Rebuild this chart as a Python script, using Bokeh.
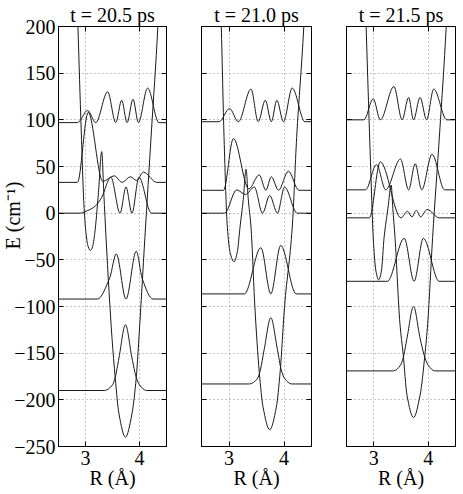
import numpy as np
from bokeh.plotting import figure
from bokeh.layouts import row
from bokeh.models import Range1d, FixedTicker, LinearAxis, Title
from bokeh.embed import file_html
from bokeh.resources import INLINE

FONT = "Liberation Serif"
TITLES = ["t = 20.5 ps", "t = 21.0 ps", "t = 21.5 ps"]
Y_TICKS = [-250, -200, -150, -100, -50, 0, 50, 100, 150, 200]
X_TICKS = [3, 4]
X_LIMITS = [2.5, 4.5]
Y_LIMITS = [-250, 200]
Y_LABEL = "E (cm\u207b\u00b9)"
X_LABEL = "R (\u00c5)"

# ---------------- panel 1 (t = 20.5 ps) ----------------
P1_POT_R = [2.80, 2.86, 2.92, 2.97, 3.01, 3.05, 3.09, 3.13, 3.17, 3.24, 3.30, 3.34, 3.38, 3.49, 3.55, 3.62, 3.74, 3.86, 3.94, 3.99, 4.10, 4.22, 4.34, 4.40]
P1_POT_V = [320, 200, 90, 10, -22, -36, -40, -36, -22, 22, 66, 20, -26, -133, -176, -215, -240, -215, -176, -133, -26, 87, 200, 280]
P1_A_R = [2.50, 2.85, 3.04, 3.19, 3.41, 3.56, 3.67, 3.77, 3.88, 3.98, 4.15, 4.36, 4.50]
P1_A_E = [97, 97, 110, 97, 130, 97, 121, 97, 122, 97, 134, 97, 97]
P1_B_R = [2.50, 2.85, 3.05, 3.32, 3.53, 3.68, 3.83, 3.95, 4.07, 4.32, 4.50]
P1_B_E = [33, 33, 108, 34, 40, 33, 39, 35, 44, 33, 33]
P1_C_R = [2.50, 2.90, 3.05, 3.19, 3.30, 3.47, 3.64, 3.75, 3.86, 3.99, 4.22, 4.50]
P1_C_E = [0, 0, 3, 8, 17, 38.5, 0, 28, 0, 38.5, 0, 0]
P1_D_R = [2.50, 3.22, 3.45, 3.57, 3.75, 3.94, 4.05, 4.25, 4.50]
P1_D_E = [-92, -92, -69, -43.6, -92, -40.8, -70, -92, -92]
P1_E_R = [2.50, 3.35, 3.50, 3.55, 3.62, 3.74, 3.86, 3.94, 4.00, 4.13, 4.50]
P1_E_E = [-190, -190, -184, -176, -155, -119.5, -155, -176, -184, -190, -190]

# ---------------- panel 2 (t = 21.0 ps) ----------------
P2_POT_R = [2.80, 2.86, 2.91, 2.97, 3.02, 3.09, 3.15, 3.20, 3.26, 3.31, 3.35, 3.40, 3.47, 3.55, 3.62, 3.74, 3.86, 3.93, 4.01, 4.15, 4.23, 4.36, 4.42]
P2_POT_V = [320, 200, 81, -15, -42, -52, -42, -15, 15, 47, 15, -15, -100, -170, -208, -232, -208, -170, -100, -15, 81, 200, 280]
P2_A_R = [2.50, 2.82, 3.01, 3.17, 3.40, 3.53, 3.66, 3.77, 3.87, 3.99, 4.15, 4.38, 4.50]
P2_A_E = [98, 98, 112, 98, 133, 98, 121, 98, 121, 98, 134, 98, 98]
P2_B_R = [2.50, 2.90, 3.08, 3.36, 3.55, 3.67, 3.77, 3.90, 4.08, 4.27, 4.50]
P2_B_E = [24.5, 24.5, 80, 26, 41, 24.5, 39, 24.5, 45, 24.5, 24.5]
P2_C_R = [2.50, 2.92, 3.14, 3.30, 3.46, 3.61, 3.74, 3.88, 4.01, 4.24, 4.50]
P2_C_E = [0, 0, 25, 20, 28, 0, 19, 0, 28, 0, 0]
P2_D_R = [2.50, 3.28, 3.58, 3.76, 3.94, 4.22, 4.50]
P2_D_E = [-86.5, -86.5, -37, -86.5, -34.6, -86.5, -86.5]
P2_E_R = [2.50, 3.37, 3.52, 3.57, 3.64, 3.76, 3.88, 3.95, 4.01, 4.14, 4.50]
P2_E_E = [-183, -183, -177, -168, -146, -112, -146, -168, -177, -183, -183]

# ---------------- panel 3 (t = 21.5 ps) ----------------
P3_POT_R = [2.80, 2.86, 2.92, 2.96, 2.99, 3.04, 3.09, 3.14, 3.19, 3.26, 3.32, 3.35, 3.39, 3.48, 3.54, 3.61, 3.73, 3.85, 3.94, 3.99, 4.08, 4.21, 4.33, 4.40]
P3_POT_V = [320, 200, 90, 20, -26, -62, -71.5, -62, -26, 5, 30, 5, -26, -118, -151, -195, -219, -195, -151, -118, -26, 87, 200, 290]
P3_A_R = [2.50, 2.82, 2.99, 3.12, 3.37, 3.52, 3.64, 3.73, 3.85, 3.97, 4.10, 4.34, 4.50]
P3_A_E = [100, 100, 122.5, 100, 135.7, 100, 124, 100, 124, 100, 133, 100, 100]
P3_B_R = [2.50, 2.85, 3.05, 3.22, 3.49, 3.64, 3.76, 3.88, 4.07, 4.30, 4.50]
P3_B_E = [25, 25, 52, 25, 58, 25, 53, 25, 63, 25, 25]
P3_C_R = [2.50, 2.92, 3.12, 3.50, 3.62, 3.70, 3.78, 3.86, 3.98, 4.20, 4.50]
P3_C_E = [-5, -5, 55, -5, 2, -4, 3, -4, 4, -5, -5]
P3_D_R = [2.50, 3.25, 3.56, 3.74, 3.91, 4.20, 4.50]
P3_D_E = [-73, -73, -27, -73, -27, -73, -73]
P3_E_R = [2.50, 3.36, 3.49, 3.54, 3.61, 3.73, 3.85, 3.94, 4.00, 4.12, 4.50]
P3_E_E = [-169, -169, -163, -155, -134, -100, -134, -155, -163, -169, -169]

PANELS = [
    dict(title=TITLES[0], pot=(P1_POT_R, P1_POT_V),
         states=[(P1_A_R, P1_A_E), (P1_B_R, P1_B_E), (P1_C_R, P1_C_E), (P1_D_R, P1_D_E), (P1_E_R, P1_E_E)]),
    dict(title=TITLES[1], pot=(P2_POT_R, P2_POT_V),
         states=[(P2_A_R, P2_A_E), (P2_B_R, P2_B_E), (P2_C_R, P2_C_E), (P2_D_R, P2_D_E), (P2_E_R, P2_E_E)]),
    dict(title=TITLES[2], pot=(P3_POT_R, P3_POT_V),
         states=[(P3_A_R, P3_A_E), (P3_B_R, P3_B_E), (P3_C_R, P3_C_E), (P3_D_R, P3_D_E), (P3_E_R, P3_E_E)]),
]


def smooth_segments(xs, ys):
    """Shape-preserving (PCHIP-style) Bezier segments through the read points."""
    x = np.asarray(xs, float)
    y = np.asarray(ys, float)
    h = np.diff(x)
    d = np.diff(y) / h
    n = len(x)
    m = np.zeros(n)
    for k in range(1, n - 1):
        if d[k - 1] * d[k] > 0:
            w1 = 2 * h[k] + h[k - 1]
            w2 = h[k] + 2 * h[k - 1]
            m[k] = (w1 + w2) / (w1 / d[k - 1] + w2 / d[k])
    m[0] = d[0] if d[0] * d[1] > 0 else 0.0
    m[-1] = d[-1] if d[-1] * d[-2] > 0 else 0.0
    return dict(x0=x[:-1], y0=y[:-1], x1=x[1:], y1=y[1:],
                cx0=x[:-1] + h / 3, cy0=y[:-1] + m[:-1] * h / 3,
                cx1=x[1:] - h / 3, cy1=y[1:] - m[1:] * h / 3)


def style_axis(ax, ticks, show_labels, overrides=None):
    ax.ticker = FixedTicker(ticks=ticks)
    ax.axis_line_color = "black"
    ax.axis_line_width = 1
    ax.major_tick_line_color = "black"
    ax.major_tick_in = 5
    ax.major_tick_out = 0
    ax.minor_tick_line_color = None
    ax.major_label_text_font = FONT
    if show_labels:
        ax.major_label_text_color = "black"
        ax.major_label_text_font_size = "20px"
        if overrides:
            ax.major_label_overrides = overrides
    else:
        ax.major_label_text_color = None
        ax.major_label_text_font_size = "0px"
        ax.major_label_standoff = 0
    ax.axis_label_text_font = FONT
    ax.axis_label_text_font_style = "normal"
    ax.axis_label_text_font_size = "20px"
    ax.axis_label_text_color = "black"


FRAME_W = [108, 110, 109]
BORDER_L = [58, 18, 18]
BORDER_R = [17, 17, 4]
TOP, FRAME_H, BOTTOM = 26, 420, 42

y_over = {t: str(t).replace("-", "\u2212") for t in Y_TICKS}

figs = []
for i, pan in enumerate(PANELS):
    p = figure(frame_width=FRAME_W[i], frame_height=FRAME_H,
               x_range=Range1d(*X_LIMITS), y_range=Range1d(*Y_LIMITS),
               output_backend="svg", toolbar_location=None,
               min_border_left=BORDER_L[i], min_border_right=BORDER_R[i],
               min_border_top=TOP, min_border_bottom=BOTTOM)
    p.outline_line_color = "black"
    p.outline_line_width = 1
    p.background_fill_color = "white"
    p.border_fill_color = "white"

    xa = p.xaxis[0]
    style_axis(xa, X_TICKS, True)
    xa.major_label_standoff = 4
    xa.axis_label = X_LABEL
    xa.axis_label_standoff = -1

    ya = p.yaxis[0]
    style_axis(ya, Y_TICKS, i == 0, y_over)
    if i == 0:
        ya.major_label_standoff = 3

    ax_r = LinearAxis()
    style_axis(ax_r, Y_TICKS, False)
    p.add_layout(ax_r, "right")

    ax_t = LinearAxis()
    style_axis(ax_t, X_TICKS, False)
    ax_t.axis_label = pan["title"]
    ax_t.axis_label_standoff = 1
    p.add_layout(ax_t, "above")

    p.xgrid.ticker = FixedTicker(ticks=X_TICKS)
    p.ygrid.ticker = FixedTicker(ticks=Y_TICKS)
    for g in (p.xgrid[0], p.ygrid[0]):
        g.grid_line_color = "#8c8c8c"
        g.grid_line_dash = "1 3"
        g.grid_line_width = 1

    pr, pv = pan["pot"]
    p.bezier(line_color="#1a1a1a", line_width=1, **smooth_segments(pr, pv))
    for sr, se in pan["states"]:
        p.bezier(line_color="#1a1a1a", line_width=1, **smooth_segments(sr, se))

    if i == 0:
        p.add_layout(Title(text=Y_LABEL, align="left", offset=197, standoff=-24,
                           text_font=FONT, text_font_style="normal",
                           text_font_size="20px", text_color="black"), "left")
    figs.append(p)

layout = row(*figs, spacing=0)
open("out.html", "w").write(file_html(layout, INLINE))
